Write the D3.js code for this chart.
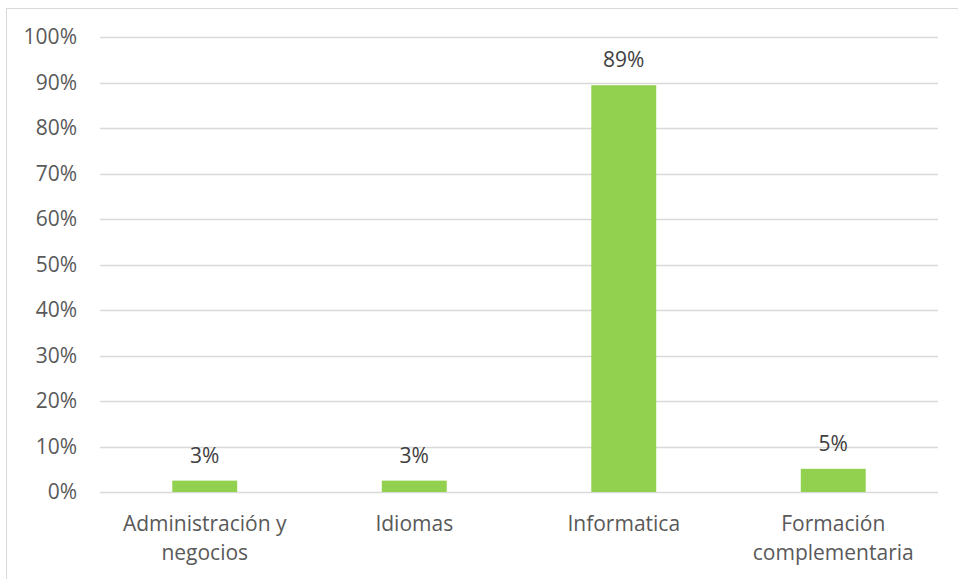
<!DOCTYPE html>
<html>
<head>
<meta charset="utf-8">
<script src="https://cdn.jsdelivr.net/npm/d3@7"></script>
<style>
  body { margin: 0; background: #fff; }
  svg text { font-family: "Open Sans", sans-serif; fill: #595959; }
</style>
</head>
<body>
<div id="chart"></div>
<script>
// data
var categories = [["Administración y", "negocios"], ["Idiomas"], ["Informatica"], ["Formación", "complementaria"]];
var values = [0.025, 0.025, 0.894, 0.051];
var labels = ["3%", "3%", "89%", "5%"];
var yTicks = [0, 0.1, 0.2, 0.3, 0.4, 0.5, 0.6, 0.7, 0.8, 0.9, 1];

var width = 958, height = 579;
var margin = {top: 37, right: 20, bottom: 87, left: 100};

var svg = d3.select("#chart").append("svg")
    .attr("width", width)
    .attr("height", height);

// chart border
svg.append("rect")
    .attr("x", 6.5).attr("y", 8.5)
    .attr("width", 960).attr("height", 580)
    .attr("fill", "none")
    .attr("stroke", "#d9d9d9");

var x = d3.scaleBand()
    .domain(d3.range(categories.length))
    .range([margin.left, width - margin.right])
    .paddingInner(0.69)
    .paddingOuter(0.345);

var y = d3.scaleLinear()
    .domain([0, 1])
    .range([height - margin.bottom, margin.top]);

// gridlines
svg.append("g").selectAll("line")
    .data(yTicks)
    .enter().append("line")
    .attr("x1", margin.left).attr("x2", width - margin.right)
    .attr("y1", function(d) { return Math.round(y(d)) + 0.5; })
    .attr("y2", function(d) { return Math.round(y(d)) + 0.5; })
    .attr("stroke", "#d9d9d9")
    .attr("stroke-width", 1.3);

// y labels
svg.append("g").selectAll("text")
    .data(yTicks)
    .enter().append("text")
    .attr("x", 77)
    .attr("y", function(d) { return y(d); })
    .attr("dy", "0.35em")
    .attr("text-anchor", "end")
    .style("font-size", "21px")
    .text(d3.format(".0%"));

// bars
svg.append("g").selectAll("rect")
    .data(values)
    .enter().append("rect")
    .attr("x", function(d, i) { return x(i); })
    .attr("y", function(d) { return y(d); })
    .attr("width", x.bandwidth())
    .attr("height", function(d) { return y(0) - y(d); })
    .attr("fill", "#92d050");

// value labels
svg.append("g").selectAll("text")
    .data(values)
    .enter().append("text")
    .attr("x", function(d, i) { return x(i) + x.bandwidth() / 2; })
    .attr("y", function(d) { return y(d) - 18; })
    .attr("text-anchor", "middle")
    .style("font-size", "21px")
    .style("fill", "#404040")
    .text(function(d, i) { return labels[i]; });

// category labels
var cat = svg.append("g").selectAll("text")
    .data(categories)
    .enter().append("text")
    .attr("text-anchor", "middle")
    .style("font-size", "21px")
    .attr("transform", function(d, i) { return "translate(" + (x(i) + x.bandwidth() / 2) + ",531)"; });

cat.selectAll("tspan")
    .data(function(d) { return d; })
    .enter().append("tspan")
    .attr("x", 0)
    .attr("y", function(d, i) { return i * 29; })
    .text(function(d) { return d; });
</script>
</body>
</html>
